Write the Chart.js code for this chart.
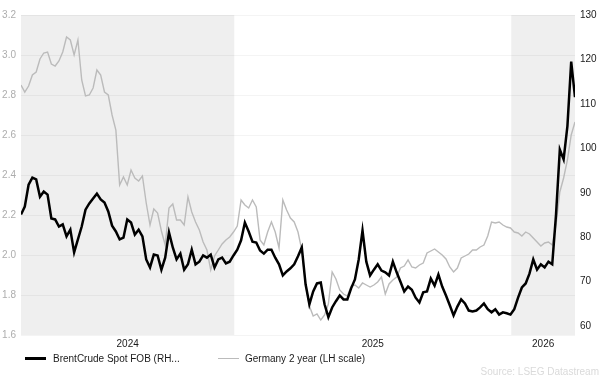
<!DOCTYPE html>
<html>
<head>
<meta charset="utf-8">
<script src="https://cdn.jsdelivr.net/npm/chart.js@4.4.1/dist/chart.umd.min.js"></script>
<style>
  html, body { margin: 0; padding: 0; background: #fff; }
  #wrap { position: relative; width: 599px; height: 375px; overflow: hidden;
          font-family: 'Liberation Sans', Arial, sans-serif; }
  #chart { position: absolute; left: 0; top: 0; }
  .legend-item { position: absolute; top: 353px; font-size: 10px; line-height: 12px; color: #1a1a1a; white-space: nowrap; }
  .legend-line { display: inline-block; width: 21px; vertical-align: middle; margin-right: 7px; position: relative; top: -1px; }
  #source { position: absolute; right: 0; top: 366px; font-size: 10px; color: #dadada; white-space: nowrap; }
</style>
</head>
<body>
<div id="wrap">
  <canvas id="chart" width="599" height="375"></canvas>
  <div class="legend-item" style="left:25px"><span class="legend-line" style="border-top:3px solid #000"></span>BrentCrude Spot FOB (RH...</div>
  <div class="legend-item" style="left:218px"><span class="legend-line" style="border-top:1.5px solid #bbbbbb;margin-right:6px"></span>Germany 2 year (LH scale)</div>
  <div id="source">Source: LSEG Datastream</div>
</div>
<script>
// ── Data (one value every 5 days from 26 Mar 2024) ───────────────────────────
const FIRST_DATE = '2024-03-26';
const STEP_DAYS = 5;

// Brent crude spot FOB, USD/bbl (right axis)
const brent = [
  85.1, 86.9, 91.8, 93.4, 93.0, 89.1, 90.3, 89.6, 84.2, 84.0,
  82.4, 82.9, 80.2, 81.7, 76.6, 79.5, 82.4, 86.2, 87.6, 88.7,
  89.8, 88.5, 87.8, 85.8, 82.6, 81.3, 79.5, 79.9, 84.0, 83.3,
  80.6, 81.7, 80.2, 75.0, 73.2, 76.1, 75.9, 72.7, 75.4, 81.1,
  77.7, 75.0, 76.3, 72.7, 73.9, 77.2, 73.9, 74.5, 75.9, 75.4,
  76.1, 73.2, 75.0, 75.4, 74.1, 74.5, 75.9, 77.2, 79.3, 83.3,
  81.3, 79.0, 78.8, 77.0, 76.3, 77.2, 77.2, 75.4, 73.9, 71.4,
  72.3, 73.0, 73.9, 75.7, 77.7, 69.4, 64.9, 67.8, 69.6, 69.8,
  64.9, 62.0, 64.2, 65.6, 66.9, 66.0, 66.0, 68.5, 70.5, 75.0,
  81.5, 74.5, 71.4, 72.7, 73.9, 72.5, 72.1, 71.4, 74.5, 72.1,
  70.0, 67.8, 68.9, 68.2, 66.4, 65.3, 67.6, 67.8, 70.7, 69.1,
  71.6, 68.9, 66.9, 64.7, 62.4, 64.4, 66.0, 65.1, 63.5, 63.3,
  63.5, 64.2, 65.1, 63.8, 63.1, 63.8, 62.6, 63.1, 62.9, 62.6,
  63.8, 66.4, 68.7, 69.6, 71.8, 75.0, 72.7, 73.9, 73.2, 74.5,
  73.9, 85.1, 99.7, 97.5, 105.0, 119.5, 111.5,
];

// Germany 2 year yield, % (left axis)
const germany2y = [
  2.850, 2.815, 2.845, 2.900, 2.915, 2.980, 3.010, 3.015, 2.955, 2.945,
  2.970, 3.015, 3.090, 3.075, 3.000, 3.075, 2.875, 2.795, 2.800, 2.835,
  2.925, 2.900, 2.815, 2.800, 2.700, 2.625, 2.350, 2.390, 2.350, 2.425,
  2.385, 2.370, 2.395, 2.260, 2.150, 2.230, 2.210, 2.120, 2.050, 2.235,
  2.255, 2.175, 2.175, 2.150, 2.290, 2.215, 2.165, 2.125, 2.065, 2.025,
  1.925, 1.995, 2.025, 2.055, 2.075, 2.090, 2.115, 2.145, 2.275, 2.250,
  2.235, 2.275, 2.240, 2.075, 2.050, 2.115, 2.165, 2.115, 2.035, 2.275,
  2.225, 2.185, 2.165, 2.115, 2.025, 1.850, 1.745, 1.695, 1.705, 1.675,
  1.700, 1.755, 1.915, 1.880, 1.825, 1.805, 1.795, 1.845, 1.850, 1.835,
  1.860, 1.850, 1.840, 1.850, 1.865, 1.890, 1.805, 1.855, 1.875, 1.890,
  1.935, 1.945, 1.975, 1.940, 1.935, 1.950, 1.960, 2.010, 2.020, 2.030,
  2.015, 2.000, 1.980, 1.940, 1.915, 1.935, 1.985, 1.995, 2.005, 2.025,
  2.025, 2.040, 2.050, 2.095, 2.165, 2.160, 2.165, 2.150, 2.140, 2.135,
  2.115, 2.110, 2.095, 2.115, 2.105, 2.085, 2.065, 2.045, 2.060, 2.065,
  2.050, 2.150, 2.315, 2.385, 2.475, 2.600, 2.665,
];

const YEARS = [2024, 2025, 2026];
const SHADED_YEARS = [2024, 2026];
const LEFT_TICKS = [1.6, 1.8, 2.0, 2.2, 2.4, 2.6, 2.8, 3.0, 3.2];
const RIGHT_TICKS = [60, 70, 80, 90, 100, 110, 120, 130];

// ── Helpers ─────────────────────────────────────────────────────────────────
const DAY = 86400000;
const T0 = Date.UTC(2024, 0, 1);
const dayOf = s => (Date.parse(s + 'T00:00:00Z') - T0) / DAY;
const yearStart = y => (Date.UTC(y, 0, 1) - T0) / DAY;

const x0 = dayOf(FIRST_DATE);
const toPoints = arr => arr.map((v, i) => ({ x: x0 + i * STEP_DAYS, y: v }));
const xMin = x0;
const xMax = x0 + (brent.length - 1) * STEP_DAYS;

// visible span of each year, used for label centres and shading
const yearSpan = y => [Math.max(yearStart(y), xMin), Math.min(yearStart(y + 1), xMax)];

// ── Year shading ────────────────────────────────────────────────────────────
const yearBands = {
  id: 'yearBands',
  beforeDraw(chart) {
    const { ctx, chartArea: a, scales: { x } } = chart;
    ctx.save();
    ctx.fillStyle = '#efefef';
    SHADED_YEARS.forEach(y => {
      const [s, e] = yearSpan(y);
      const p1 = x.getPixelForValue(s), p2 = x.getPixelForValue(e);
      ctx.fillRect(p1, a.top, p2 - p1, a.bottom - a.top);
    });
    ctx.restore();
  },
};

// ── Chart ───────────────────────────────────────────────────────────────────
new Chart(document.getElementById('chart'), {
  type: 'line',
  data: {
    datasets: [
      {
        label: 'BrentCrude Spot FOB (RH...',
        data: toPoints(brent),
        yAxisID: 'yR',
        borderColor: '#000',
        borderWidth: 2.5,
        pointRadius: 0,
        tension: 0,
      },
      {
        label: 'Germany 2 year (LH scale)',
        data: toPoints(germany2y),
        yAxisID: 'yL',
        borderColor: '#bbbbbb',
        borderWidth: 1.4,
        pointRadius: 0,
        tension: 0,
      },
    ],
  },
  options: {
    responsive: false,
    animation: false,
    layout: { padding: { top: 15, left: 0, right: 0, bottom: 0 } },
    plugins: { legend: { display: false }, tooltip: { enabled: false } },
    scales: {
      x: {
        type: 'linear',
        min: xMin,
        max: xMax,
        grid: { display: false, drawTicks: false },
        border: { display: false },
        afterBuildTicks: s => { s.ticks = YEARS.map(y => ({ value: (yearSpan(y)[0] + yearSpan(y)[1]) / 2 })); },
        afterFit: s => { s.height = 40; },
        ticks: {
          autoSkip: false, maxRotation: 0, padding: 3,
          color: '#1a1a1a', font: { size: 10, family: "'Liberation Sans', Arial, sans-serif" },
          callback: (v, i) => String(YEARS[i]),
        },
      },
      yL: {
        position: 'left',
        min: 1.6,
        max: 3.2,
        afterBuildTicks: s => { s.ticks = LEFT_TICKS.map(v => ({ value: v })); },
        afterFit: s => { s.width = 21; },
        grid: { color: 'rgba(0,0,0,0.045)', drawTicks: false },
        border: { display: false },
        ticks: {
          padding: 5, color: '#adadad',
          font: { size: 10, family: "'Liberation Sans', Arial, sans-serif" },
          callback: v => v.toFixed(1),
        },
      },
      yR: {
        position: 'right',
        min: 58,
        max: 130,
        afterBuildTicks: s => { s.ticks = RIGHT_TICKS.map(v => ({ value: v })); },
        afterFit: s => { s.width = 24; },
        grid: { display: false, drawTicks: false },
        border: { display: false },
        ticks: {
          padding: 5, color: '#1a1a1a',
          font: { size: 10, family: "'Liberation Sans', Arial, sans-serif" },
        },
      },
    },
  },
  plugins: [yearBands],
});
</script>
</body>
</html>
